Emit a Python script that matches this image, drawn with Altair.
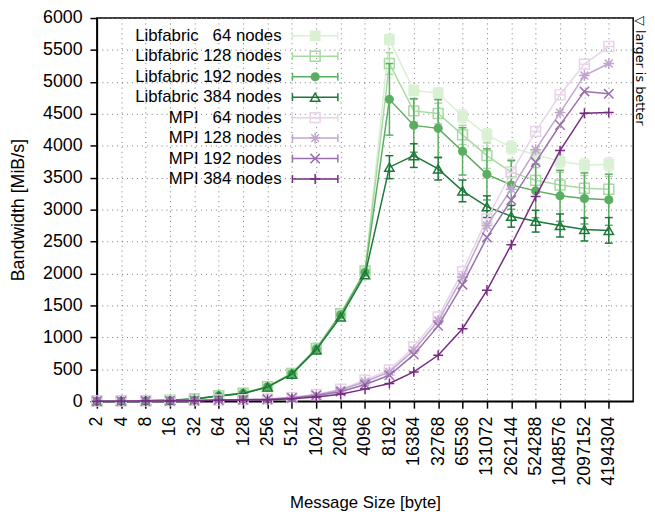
import altair as alt
import pandas as pd

FONT = "Liberation Sans"

# ---- data ----
sizes = [2 ** i for i in range(1, 23)]

lib64 = [3, 5, 9, 18, 36, 88, 128, 232, 440, 835, 1380, 2050, 5664, 4866, 4825, 4464, 4170, 3974, 3860, 3757, 3696, 3711]
lib128 = [3, 5, 9, 18, 35, 86, 126, 230, 436, 828, 1370, 2040, 5288, 4546, 4505, 4170, 3845, 3587, 3459, 3386, 3335, 3320]
lib192 = [3, 5, 9, 17, 35, 85, 124, 227, 433, 820, 1355, 2020, 4727, 4319, 4273, 3912, 3552, 3386, 3294, 3216, 3175, 3155]
lib384 = [3, 5, 8, 17, 34, 82, 120, 222, 425, 805, 1320, 1980, 3665, 3846, 3639, 3294, 3046, 2896, 2819, 2752, 2690, 2675]

mpi64 = [1, 2, 4, 7, 12, 20, 25, 35, 60, 105, 190, 330, 490, 850, 1320, 2030, 2856, 3577, 4225, 4798, 5278, 5555]
mpi128 = [1, 2, 4, 7, 12, 19, 24, 33, 57, 100, 175, 305, 460, 800, 1260, 1943, 2752, 3320, 3938, 4520, 5100, 5288]
mpi192 = [1, 2, 3, 6, 11, 18, 22, 30, 52, 90, 150, 263, 407, 730, 1180, 1825, 2565, 3150, 3745, 4325, 4851, 4814]
mpi384 = [1, 2, 3, 5, 9, 14, 18, 25, 40, 65, 108, 190, 278, 459, 720, 1135, 1737, 2450, 3205, 3925, 4510, 4520]

# symmetric error (half-width) of the Libfabric runs
lib64_err = [0] * 12 + [80, 80, 80, 100, 100, 100, 100, 100, 100, 100]
lib128_err = [0] * 12 + [170, 180, 160, 150, 200, 200, 200, 200, 200, 200]
lib192_err = [0] * 12 + [560, 420, 450, 370, 400, 380, 420, 400, 400, 400]
lib384_err = [0] * 12 + [180, 185, 175, 170, 170, 170, 170, 180, 180, 200]

names = [
    "Libfabric \u00a0\u00a064 nodes", "Libfabric 128 nodes", "Libfabric 192 nodes", "Libfabric 384 nodes",
    "MPI \u00a0\u00a064 nodes", "MPI 128 nodes", "MPI 192 nodes", "MPI 384 nodes",
]
colors = ["#d9f0d3", "#a6dba0", "#5aae61", "#1b7837", "#e7d4e8", "#c2a5cf", "#9970ab", "#762a83"]
shapes = [
    "square", "square", "circle", "triangle-up",
    "M-1,-1H1V1H-1ZM-1,0H1",
    "M-1,0H1M0,-1V1M-0.72,-0.72L0.72,0.72M-0.72,0.72L0.72,-0.72",
    "M-1,-1L1,1M-1,1L1,-1",
    "M-1,0H1M0,-1V1",
]
filled = [True, False, True, False, False, False, False, False]
msizes = [120, 100, 85, 90, 100, 120, 90, 100]
values = [lib64, lib128, lib192, lib384, mpi64, mpi128, mpi192, mpi384]
errors = [lib64_err, lib128_err, lib192_err, lib384_err, None, None, None, None]

annotation = "\u25bd larger is better"

# ---- encodings ----
x_enc = alt.X(
    "size:Q",
    scale=alt.Scale(type="log", base=2, domain=[2, 8388608], nice=False),
    axis=alt.Axis(values=sizes, format="d", labelAngle=270, title="Message Size [byte]",
                  grid=True, titlePadding=10, titleFontSize=17),
)
Y_TITLE = "Bandwidth [MiB/s]"
y_scale = alt.Scale(domain=[0, 6000], nice=False)
y_axis = alt.Axis(values=list(range(0, 6001, 500)), format="d", title=Y_TITLE, grid=True, titlePadding=15)


def yq(field):
    return alt.Y(f"{field}:Q", scale=y_scale, axis=y_axis, title=Y_TITLE)


leg_y = alt.Y("rank:Q", scale=alt.Scale(domain=[0, 7], range=[18, 163], nice=False, zero=False), axis=None)

main_layers = []
legend_layers = []
for i in range(8):
    c = colors[i]
    df = pd.DataFrame({"size": sizes, "bw": values[i]})
    if errors[i] is not None:
        edf = pd.DataFrame({"size": sizes, "bw": values[i], "err": errors[i]})
        edf = edf[edf["err"] > 0].copy()
        edf["lo"] = edf["bw"] - edf["err"]
        edf["hi"] = edf["bw"] + edf["err"]
        caps = pd.concat([
            pd.DataFrame({"size": edf["size"], "cap": edf["lo"]}),
            pd.DataFrame({"size": edf["size"], "cap": edf["hi"]}),
        ])
        main_layers.append(
            alt.Chart(edf).mark_rule(color=c, strokeWidth=1.5).encode(x=x_enc, y=yq("lo"), y2="hi:Q")
        )
        main_layers.append(
            alt.Chart(caps).mark_point(shape="M-1,0H1", size=64, color=c, strokeWidth=1.5, opacity=1)
            .encode(x=x_enc, y=yq("cap"))
        )
    main_layers.append(alt.Chart(df).mark_line(color=c, strokeWidth=1.5).encode(x=x_enc, y=yq("bw")))
    main_layers.append(
        alt.Chart(df).mark_point(shape=shapes[i], filled=filled[i], size=msizes[i], color=c,
                                 strokeWidth=1.5, opacity=1)
        .encode(x=x_enc, y=yq("bw"))
    )

    ldf = pd.DataFrame({"rank": [i]})
    legend_layers.append(
        alt.Chart(ldf).mark_rule(color=c, strokeWidth=1.5)
        .encode(x=alt.value(198), x2=alt.value(244), y=leg_y)
    )
    for xv in (198, 244):
        legend_layers.append(
            alt.Chart(ldf).mark_point(shape="M0,-1V1", size=64, color=c, strokeWidth=1.5, opacity=1)
            .encode(x=alt.value(xv), y=leg_y)
        )
    legend_layers.append(
        alt.Chart(ldf).mark_point(shape=shapes[i], filled=filled[i], size=msizes[i], color=c,
                                  strokeWidth=1.5, opacity=1)
        .encode(x=alt.value(221), y=leg_y)
    )

legend_text = alt.Chart(pd.DataFrame({"label": names, "rank": list(range(8))})).mark_text(
    align="right", baseline="middle", fontSize=17, font=FONT, color="black"
).encode(text="label:N", x=alt.value(187), y=leg_y)
legend_layers.append(legend_text)

annot = alt.Chart(pd.DataFrame({"t": [annotation]})).mark_text(
    angle=90, align="left", baseline="middle", fontSize=13, font="DejaVu Sans", color="black"
).encode(text="t:N", x=alt.value(550), y=alt.value(-2))

main = alt.layer(*main_layers)
legend = alt.layer(*legend_layers)

chart = (
    alt.layer(main, legend, annot)
    .resolve_scale(y="independent")
    .properties(
        width=543, height=388,
        padding={"left": 90, "top": 7, "right": 14, "bottom": 111},
        autosize=alt.AutoSizeParams(type="none"),
    )
    .configure_view(stroke="black", strokeWidth=1.5)
    .configure_axis(
        domainColor="black", domainWidth=1.5, tickColor="black", tickWidth=1.5, tickSize=7,
        gridColor="#777", gridDash=[1, 4], gridOpacity=1, gridWidth=1,
        labelFont=FONT, labelFontSize=18, labelColor="black", labelPadding=8,
        titleFont=FONT, titleFontSize=18, titleFontWeight="normal", titleColor="black",
    )
)

chart.save("out.html", embed_options={"renderer": "svg", "actions": False})
